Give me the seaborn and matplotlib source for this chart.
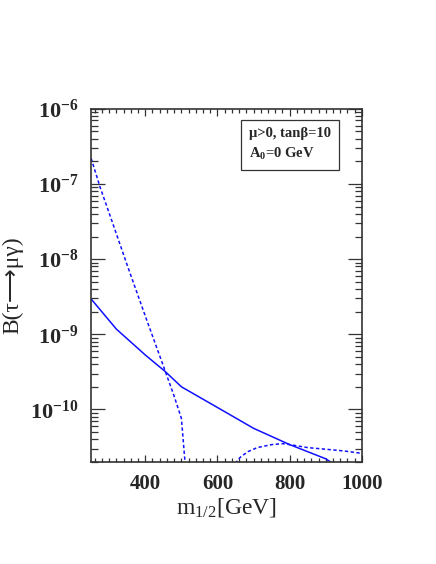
import numpy as np
import pandas as pd
import matplotlib
matplotlib.use('Agg')
import matplotlib.pyplot as plt
import matplotlib.ticker as mticker
import seaborn as sns

# curve data (m_1/2 in GeV, branching ratio)
m_solid = [250, 320, 400, 455, 500, 600, 700, 800, 900, 920]
br_solid = [2.95e-9, 1.17e-9, 5.3e-10, 3.2e-10, 2.0e-10, 1.06e-10, 5.6e-11, 3.4e-11, 2.2e-11, 1.9e-11]

m_dot1 = [250, 275, 300, 350, 400, 450, 480, 500, 504, 510, 513]
br_dot1 = [2.2e-7, 9e-8, 4.1e-8, 8.3e-9, 1.75e-9, 3.8e-10, 1.5e-10, 7.6e-11, 4.5e-11, 2.0e-11, 1.2e-11]

m_dot2 = [645, 655, 665, 685, 710, 750, 780, 800, 850, 900, 950, 1000]
br_dot2 = [1.6e-11, 2.1e-11, 2.35e-11, 2.75e-11, 3.1e-11, 3.4e-11, 3.5e-11, 3.4e-11, 3.1e-11, 2.95e-11, 2.8e-11, 2.6e-11]

x_ticks = [400, 600, 800, 1000]
y_ticks = [1e-10, 1e-9, 1e-8, 1e-7, 1e-6]

sns.set_style('ticks')
plt.rcParams['font.family'] = ['Liberation Serif', 'DejaVu Sans']
plt.rcParams['mathtext.fontset'] = 'custom'
plt.rcParams['mathtext.rm'] = 'Liberation Serif'
plt.rcParams['mathtext.it'] = 'Liberation Serif:italic'
plt.rcParams['mathtext.bf'] = 'Liberation Serif:bold'

fig = plt.figure(figsize=(4.36, 5.64), dpi=100)
ax = fig.add_axes([0.209, 0.181, 0.621, 0.626])

df_solid = pd.DataFrame({'m': m_solid, 'br': br_solid})
df_dot1 = pd.DataFrame({'m': m_dot1, 'br': br_dot1})
df_dot2 = pd.DataFrame({'m': m_dot2, 'br': br_dot2})

sns.lineplot(data=df_solid, x='m', y='br', ax=ax, color='#1010ff', linewidth=1.1)
sns.lineplot(data=df_dot1, x='m', y='br', ax=ax, color='#1010ff', linewidth=1.1,
             linestyle=(0, (2.2, 1.6)))
sns.lineplot(data=df_dot2, x='m', y='br', ax=ax, color='#1010ff', linewidth=1.1,
             linestyle=(0, (2.2, 1.6)))

ax.set_yscale('log')
ax.set_xlim(250, 1000)
ax.set_ylim(2e-11, 1e-6)

ax.xaxis.set_major_locator(mticker.FixedLocator(x_ticks))
ax.xaxis.set_minor_locator(mticker.MultipleLocator(20))
ax.xaxis.set_major_formatter(mticker.FuncFormatter(lambda v, p: '%d' % v))
ax.yaxis.set_major_locator(mticker.FixedLocator(y_ticks))
ax.yaxis.set_minor_locator(mticker.LogLocator(base=10, subs=np.arange(2, 10), numticks=20))
ax.yaxis.set_minor_formatter(mticker.NullFormatter())
ax.yaxis.set_major_formatter(mticker.FuncFormatter(
    lambda v, p: r'$\mathbf{10}^{\mathbf{%d}}$' % round(np.log10(v))))

ax.tick_params(axis='both', which='both', direction='in', top=True, right=True,
               width=0.9, color='#333333')
ax.tick_params(axis='x', which='major', length=5, pad=9)
ax.tick_params(axis='x', which='minor', length=3)
ax.tick_params(axis='y', which='major', length=10, pad=9)
ax.tick_params(axis='y', which='minor', length=5)
for lab in ax.get_xticklabels():
    lab.set_fontweight('bold')
ax.tick_params(axis='x', labelsize=15)
ax.tick_params(axis='y', labelsize=16)
for s in ax.spines.values():
    s.set_linewidth(1.2)
    s.set_color('#333333')

ax.set_xlabel(r'm$_{1/2}$[GeV]', fontsize=17, labelpad=1)
ax.set_ylabel('B(τ⟶μγ)', fontsize=17, labelpad=5)

ax.text(0.583, 0.95, 'μ>0, tanβ=10\n' + r'A$_{\mathbf{0}}$=0 GeV', transform=ax.transAxes,
        fontsize=10.5, fontweight='bold', va='top', ha='left', linespacing=1.5,
        bbox=dict(boxstyle='square,pad=0.55', facecolor='white', edgecolor='#333333', linewidth=0.9))

plt.savefig('out.png', dpi=100)
